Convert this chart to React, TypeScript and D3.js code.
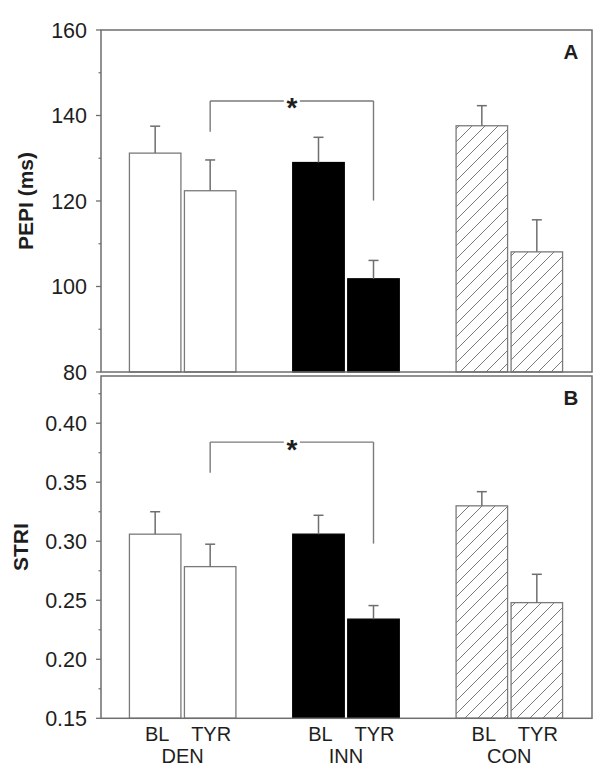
import React from "react";
import * as d3 from "d3";

const groups = ["DEN", "INN", "CON"];
const conditions = ["BL", "TYR"];
const pepiMean = [
  [131.2, 122.4],
  [129.0, 101.8],
  [137.6, 108.1],
];
const pepiSE = [
  [6.3, 7.2],
  [5.9, 4.3],
  [4.7, 7.5],
];
const striMean = [
  [0.306, 0.2785],
  [0.306, 0.234],
  [0.33, 0.248],
];
const striSE = [
  [0.019, 0.019],
  [0.016, 0.0115],
  [0.012, 0.024],
];
const pepiTicks = [80, 100, 120, 140, 160];
const pepiMinor = [90, 110, 130, 150];
const striTicks = [0.15, 0.2, 0.25, 0.3, 0.35, 0.4];
const striMinor = [0.175, 0.225, 0.275, 0.325, 0.375, 0.425];
// bracket: [top, leftEnd, rightEnd]
const pepiBracket = [143.4, 136.2, 120.1];
const striBracket = [0.384, 0.358, 0.298];

const FONT = "'Liberation Sans', Arial, Helvetica, sans-serif";
const LEFT = 101;
const RIGHT = 592;
const LINE = "#6e6e6e";
const TEXT = "#1e1e1e";

const xGroup = d3.scaleBand<string>().domain(groups).range([LEFT, 591]).padding(0);
const xCond = d3
  .scaleBand<string>()
  .domain(conditions)
  .range([-53.25, 53.25])
  .paddingInner(0.0636)
  .paddingOuter(0);

function barX(g: string, c: string) {
  return (xGroup(g) as number) + xGroup.bandwidth() / 2 + (xCond(c) as number);
}
function barCenter(g: string, c: string) {
  return barX(g, c) + xCond.bandwidth() / 2;
}

type PanelProps = {
  y: d3.ScaleLinear<number, number>;
  means: number[][];
  ses: number[][];
  ticks: number[];
  minor: number[];
  fmt: (v: number) => string;
  bracket: number[];
  letter: string;
  title: string;
  titleX: number;
  top: number;
  bottom: number;
};

function Panel({ y, means, ses, ticks, minor, fmt, bracket, letter, title, titleX, top, bottom }: PanelProps) {
  const bw = xCond.bandwidth();
  const lx = barCenter("DEN", "TYR");
  const rx = barCenter("INN", "TYR");
  const mid = (lx + rx) / 2;
  const gap = 8;
  const by = y(bracket[0]);
  return (
    <g>
      {groups.map((g, gi) =>
        conditions.map((c, ci) => {
          const v = means[gi][ci];
          const se = ses[gi][ci];
          const x0 = barX(g, c);
          const cx = x0 + bw / 2;
          const fill = g === "INN" ? "#000" : g === "CON" ? "url(#hatch)" : "#fff";
          const stroke = g === "INN" ? "#000" : "#7a7a7a";
          return (
            <g key={g + c}>
              <rect
                x={x0}
                y={y(v)}
                width={bw}
                height={y.range()[0] - y(v)}
                fill={fill}
                stroke={stroke}
                strokeWidth={1.3}
              />
              <line x1={cx} x2={cx} y1={y(v)} y2={y(v + se)} stroke={LINE} strokeWidth={1.5} />
              <line x1={cx - 5} x2={cx + 5} y1={y(v + se)} y2={y(v + se)} stroke={LINE} strokeWidth={1.5} />
            </g>
          );
        })
      )}
      {/* frame */}
      <rect x={LEFT} y={top} width={RIGHT - LEFT} height={bottom - top} fill="none" stroke={LINE} strokeWidth={1.5} />
      {ticks.map((t) => (
        <g key={"t" + t}>
          <line x1={LEFT - 5} x2={LEFT} y1={y(t)} y2={y(t)} stroke={LINE} strokeWidth={1.3} />
          <text
            x={87}
            y={y(t)}
            dy="0.36em"
            textAnchor="end"
            fontFamily={FONT}
            fontSize={21.5}
            fill={TEXT}
          >
            {fmt(t)}
          </text>
        </g>
      ))}
      {minor.map((t) => (
        <line key={"m" + t} x1={LEFT - 2.5} x2={LEFT} y1={y(t)} y2={y(t)} stroke={LINE} strokeWidth={1.2} />
      ))}
      {/* significance bracket */}
      <g stroke="#7a7a7a" strokeWidth={1.4} fill="none">
        <line x1={lx} x2={lx} y1={by} y2={y(bracket[1])} />
        <line x1={rx} x2={rx} y1={by} y2={y(bracket[2])} />
        <line x1={lx} x2={mid - gap} y1={by} y2={by} />
        <line x1={mid + gap} x2={rx} y1={by} y2={by} />
      </g>
      <text x={mid} y={by + 16.5} textAnchor="middle" fontFamily={FONT} fontWeight="bold" fontSize={28} fill={TEXT}>
        *
      </text>
      <text x={571} y={top + 29} textAnchor="middle" fontFamily={FONT} fontWeight="bold" fontSize={20.5} fill={TEXT}>
        {letter}
      </text>
      <text
        transform={`translate(${titleX},${(top + bottom) / 2}) rotate(-90)`}
        textAnchor="middle"
        fontFamily={FONT}
        fontWeight="bold"
        fontSize={21}
        fill={TEXT}
      >
        {title}
      </text>
    </g>
  );
}

export default function App() {
  const yA = d3.scaleLinear().domain([80, 160]).range([372, 30]);
  const yB = d3.scaleLinear().domain([0.15, 0.44]).range([718.3, 376]);
  return (
    <svg
      width={604}
      height={776}
      style={{ position: "absolute", left: 0, top: 0, background: "#fff" }}
    >
      <defs>
        <pattern id="hatch" patternUnits="userSpaceOnUse" width={13} height={13}>
          <rect width={13} height={13} fill="#fff" />
          <path d="M-3,3 L3,-3 M0,13 L13,0 M10,16 L16,10" stroke="#7a7a7a" strokeWidth={1} />
        </pattern>
      </defs>
      <rect width={604} height={776} fill="#fff" />
      <Panel
        y={yA}
        means={pepiMean}
        ses={pepiSE}
        ticks={pepiTicks}
        minor={pepiMinor}
        fmt={(v) => String(v)}
        bracket={pepiBracket}
        letter="A"
        title="PEPI (ms)"
        titleX={33}
        top={30}
        bottom={372}
      />
      <Panel
        y={yB}
        means={striMean}
        ses={striSE}
        ticks={striTicks}
        minor={striMinor}
        fmt={(v) => d3.format(".2f")(v)}
        bracket={striBracket}
        letter="B"
        title="STRI"
        titleX={28}
        top={376}
        bottom={718.3}
      />
      {groups.map((g) => (
        <g key={"lab" + g}>
          {conditions.map((c) => (
            <text
              key={c}
              x={barCenter(g, c) + (c === "BL" ? 2 : 1)}
              y={741}
              textAnchor="middle"
              fontFamily={FONT}
              fontSize={20}
              fill={TEXT}
            >
              {c}
            </text>
          ))}
          <text
            x={(xGroup(g) as number) + xGroup.bandwidth() / 2}
            y={763}
            textAnchor="middle"
            fontFamily={FONT}
            fontSize={20}
            fill={TEXT}
          >
            {g}
          </text>
        </g>
      ))}
    </svg>
  );
}
